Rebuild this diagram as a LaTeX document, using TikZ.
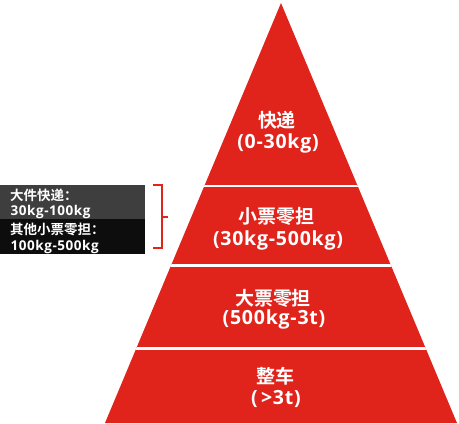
\documentclass[tikz,border=0pt]{standalone}
\usepackage{fontspec}
\setmainfont{Open Sans}[LetterSpace=4]
\newfontfamily\cjk{Noto Sans CJK SC Bold}
\definecolor{pred}{RGB}{224,36,28}
\definecolor{boxgray}{RGB}{62,62,62}
\definecolor{boxblack}{RGB}{13,13,13}
\begin{document}
\begin{tikzpicture}[x=1pt,y=-1pt,
  tiercn/.style={anchor=base,text=white,inner sep=0pt,font=\cjk\fontsize{19}{19}\selectfont},
  tierla/.style={anchor=base,text=white,inner sep=0pt,font=\bfseries\fontsize{19.5}{19.5}\selectfont},
  boxcn/.style={anchor=base west,text=white,inner sep=0pt,font=\cjk\fontsize{13.5}{13.5}\selectfont},
  boxla/.style={anchor=base west,text=white,inner sep=0pt,font=\bfseries\fontsize{13.5}{13.5}\selectfont},
  sep/.style={draw=white,line width=2.5pt},
  brk/.style={draw=pred,line width=2pt}]
\useasboundingbox (0,0) rectangle (459,424);
% pyramid
\coordinate (apex) at (281,3);
\coordinate (bl) at (105,423);
\coordinate (br) at (457,423);
\fill[pred] (apex) -- (br) -- (bl) -- cycle;
\begin{scope}
\clip (apex) -- (br) -- (bl) -- cycle;
\draw[sep] (100,186) -- (460,186);
\draw[sep] (100,265.5) -- (460,265.5);
\draw[sep] (100,348.3) -- (460,348.3);
\end{scope}
% tier labels
\node[tiercn] (t1a) at (277,127) {快递};
\node[tierla] (t1b) at (278,148.3) {(0-30kg)};
\node[tiercn] (t2a) at (276,223.5) {小票零担};
\node[tierla] (t2b) at (278,245) {(30kg-500kg)};
\node[tiercn] (t3a) at (273,305) {大票零担};
\node[tierla] (t3b) at (274,324) {(500kg-3t)};
\node[tiercn] (t4a) at (275,383.5) {整车};
\node[tierla] (t4b) at (276,404) {(\,>3t)};
% left box
\fill[boxgray] (0,185) rectangle (145,219);
\fill[boxblack] (0,219) rectangle (145,254);
\node[boxcn] (b1) at (10,200) {大件快递：};
\node[boxla] (b2) at (10.5,215.7) {30kg-100kg};
\node[boxcn] (b3) at (10,234) {其他小票零担：};
\node[boxla] (b4) at (10.5,250) {100kg-500kg};
% bracket
\coordinate (k1) at (153,185);
\coordinate (k2) at (161.5,185);
\coordinate (k3) at (161.5,248);
\coordinate (k4) at (153,248);
\coordinate (km) at (161.5,216.5);
\coordinate (kt) at (168,216.5);
\draw[brk] (k1) -- (k2) -- (k3) -- (k4);
\draw[brk] (km) -- (kt);
\end{tikzpicture}
\end{document}
